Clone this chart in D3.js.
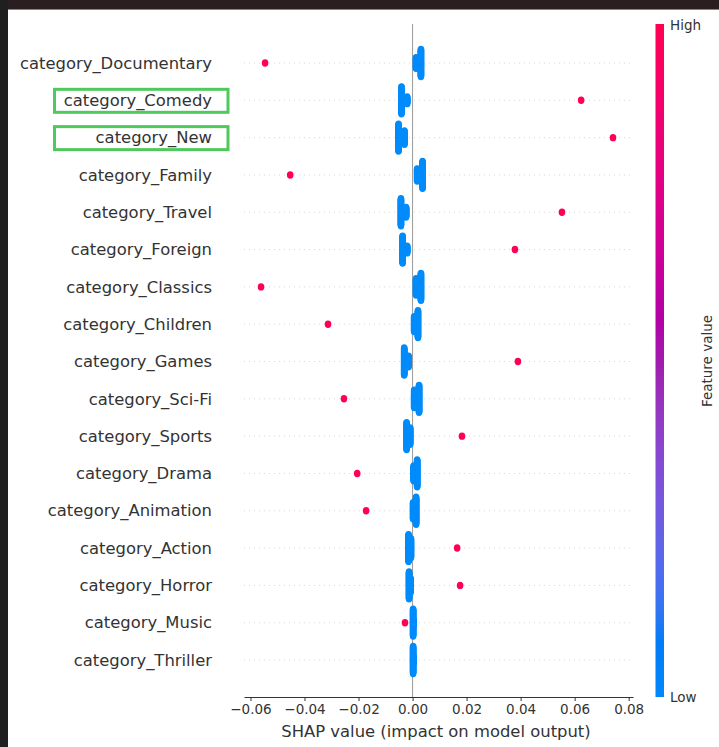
<!DOCTYPE html>
<html>
<head>
<meta charset="utf-8">
<script src="https://cdn.jsdelivr.net/npm/d3@7"></script>
<style>
  html, body { margin: 0; padding: 0; background: #fff; }
  svg { display: block; font-family: "DejaVu Sans", sans-serif; }
</style>
</head>
<body>
<svg id="chart" width="719" height="747"></svg>
<script>
// Features, top to bottom
const categories = [
  "category_Documentary", "category_Comedy", "category_New", "category_Family",
  "category_Travel", "category_Foreign", "category_Classics", "category_Children",
  "category_Games", "category_Sci-Fi", "category_Sports", "category_Drama",
  "category_Animation", "category_Action", "category_Horror", "category_Music",
  "category_Thriller"
];

// SHAP value of the single high (feature = 1) sample per feature
const highShap = [
  -0.0546, 0.0624, 0.0742, -0.0453, 0.0553, 0.0379, -0.0561, -0.0313,
  0.0390, -0.0254, 0.0183, -0.0205, -0.0172, 0.0165, 0.0176, -0.0028, null
];

// Low (feature = 0) samples: main pile and a smaller side pile
const lowMain = [
  0.0031, -0.0041, -0.0052, 0.0037, -0.0043, -0.0037, 0.0031, 0.0020,
  -0.0031, 0.0024, -0.0022, 0.0017, 0.0013, -0.0015, -0.0013, 0.0002, 0.0002
];
const lowMainCount = [41, 41, 41, 41, 41, 41, 41, 41, 41, 41, 41, 41, 41, 41, 41, 41, 41];
const lowSide = [
  0.0013, -0.0020, -0.0030, 0.0017, -0.0024, -0.0020, 0.0013, 0.0006,
  -0.0015, 0.0006, -0.0009, 0.0004, 0.0002, -0.0006, -0.0007, 0.0004, 0.0004
];
const lowSideCount = [17, 11, 21, 19, 15, 11, 25, 23, 17, 27, 25, 23, 25, 29, 21, 9, 9];

const xTicks = [-0.06, -0.04, -0.02, 0.00, 0.02, 0.04, 0.06, 0.08];
const highlighted = ["category_Comedy", "category_New"];

const blue = "#008bfb", red = "#ff0052";

const svg = d3.select("#chart");

// window frame
svg.append("rect").attr("x", 0).attr("y", 0).attr("width", 719).attr("height", 747).attr("fill", "#fff");
svg.append("rect").attr("x", 0).attr("y", 0).attr("width", 719).attr("height", 9).attr("fill", "#2a1e20");
svg.append("rect").attr("x", 0).attr("y", 9).attr("width", 719).attr("height", 1).attr("fill", "#8c7f7d");
svg.append("rect").attr("x", 0).attr("y", 0).attr("width", 8).attr("height", 747).attr("fill", "#1f1f1f");

const x = d3.scaleLinear().domain([-0.0624, 0.0816]).range([244, 633]);
const y = d3.scalePoint().domain(categories).range([63, 660]);
const rowStep = y.step();
const halfSpread = 0.36 * rowStep;

// dotted row guides
svg.append("g").selectAll("line").data(categories).join("line")
  .attr("x1", 244).attr("x2", 633)
  .attr("y1", d => y(d)).attr("y2", d => y(d))
  .attr("stroke", "#cccccc").attr("stroke-width", 0.8)
  .attr("stroke-dasharray", "1,4");

// zero line
svg.append("line")
  .attr("x1", x(0)).attr("x2", x(0)).attr("y1", 24).attr("y2", 697)
  .attr("stroke", "#999").attr("stroke-width", 1);

// beeswarm layout: each pile stacks alternately above and below the row
function pile(value, count, feature) {
  const pts = [];
  for (let i = 0; i < count; i++) {
    const layer = Math.ceil(i / 2);
    const sign = i % 2 === 1 ? -1 : 1;
    pts.push({ feature, value, layer: layer * sign, high: false });
  }
  return pts;
}

const points = [];
categories.forEach((c, i) => {
  const rowPts = pile(lowMain[i], lowMainCount[i], c).concat(pile(lowSide[i], lowSideCount[i], c));
  const maxLayer = d3.max(rowPts, p => Math.abs(p.layer)) || 1;
  rowPts.forEach(p => { p.dy = p.layer / maxLayer * halfSpread; });
  points.push(...rowPts);
  if (highShap[i] !== null) points.push({ feature: c, value: highShap[i], dy: 0, high: true });
});

svg.append("g").selectAll("ellipse").data(points).join("ellipse")
  .attr("cx", d => x(d.value))
  .attr("cy", d => y(d.feature) + d.dy)
  .attr("rx", 3.3).attr("ry", 3.7)
  .attr("fill", d => d.high ? red : blue);

// feature labels
svg.append("g").selectAll("text").data(categories).join("text")
  .attr("x", 212).attr("y", d => y(d)).attr("dy", "0.35em")
  .attr("text-anchor", "end").attr("font-size", 16.4).attr("fill", "#333")
  .text(d => d);

// highlight boxes
svg.append("g").selectAll("rect").data(highlighted).join("rect")
  .attr("x", 54.5).attr("y", d => y(d) - 11).attr("width", 173.5).attr("height", 23)
  .attr("fill", "none").attr("stroke", "#4fc95b").attr("stroke-width", 3);

// x axis
const axis = svg.append("g").attr("transform", "translate(0,697)")
  .call(d3.axisBottom(x).tickValues(xTicks).tickFormat(d3.format(".2f"))
    .tickSize(4).tickSizeOuter(0).tickPadding(3.5));
axis.select(".domain").attr("stroke", "#333");
axis.selectAll(".tick line").attr("stroke", "#333");
axis.selectAll(".tick text").attr("font-size", 13.5).attr("fill", "#333")
  .attr("font-family", "DejaVu Sans, sans-serif");

svg.append("text").attr("x", 436).attr("y", 737).attr("text-anchor", "middle")
  .attr("font-size", 16.4).attr("fill", "#333")
  .text("SHAP value (impact on model output)");

// colour bar: blue -> red through LCH, lightness dipping in the middle
const defs = svg.append("defs");
const grad = defs.append("linearGradient").attr("id", "cbar")
  .attr("x1", 0).attr("y1", 1).attr("x2", 0).attr("y2", 0);
const rad = 180 / Math.PI;
const hBlue = 4.6588 * rad, hRed = (0.35470565 + 2 * Math.PI) * rad;
d3.range(0, 1.0001, 0.02).forEach(t => {
  const l = t < 0.5 ? 54 + (40 - 54) * (t / 0.5) : 40 + (54 - 40) * ((t - 0.5) / 0.5);
  const c = 70 + (90 - 70) * t;
  const h = hBlue + (hRed - hBlue) * t;
  const col = d3.hcl(h % 360, c, l).rgb().clamp();
  grad.append("stop").attr("offset", t).attr("stop-color", col.formatHex());
});
svg.append("rect").attr("x", 655.5).attr("y", 24).attr("width", 8.5).attr("height", 673)
  .attr("fill", "url(#cbar)");

svg.append("text").attr("x", 670).attr("y", 29.5).attr("font-size", 13.5).attr("fill", "#333").text("High");
svg.append("text").attr("x", 670).attr("y", 702).attr("font-size", 13.5).attr("fill", "#333").text("Low");
svg.append("text")
  .attr("transform", "translate(712,361) rotate(-90)")
  .attr("text-anchor", "middle").attr("font-size", 13.5).attr("fill", "#333")
  .text("Feature value");
</script>
</body>
</html>
